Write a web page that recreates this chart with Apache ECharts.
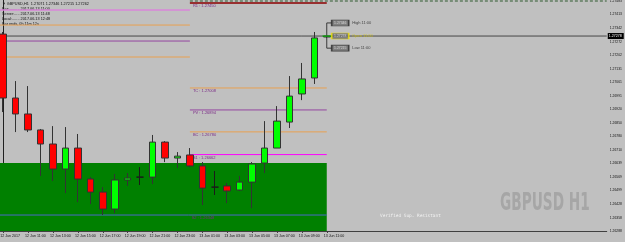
<!DOCTYPE html>
<html>
<head>
<meta charset="utf-8">
<script src="https://cdn.jsdelivr.net/npm/echarts@6/dist/echarts.min.js"></script>
<style>
  html, body { margin: 0; padding: 0; background: #c0c0c0; overflow: hidden; }
  body { width: 625px; height: 242px; position: relative; }
  /* the plot starts slightly outside the window, like the terminal's chart */
  #chart { position: absolute; left: -3px; top: -4px; width: 628px; height: 246px; }
</style>
</head>
<body>
<div id="chart"></div>
<script>
  // hourly bars, 12 Jun 09:00 .. 13 Jun 11:00 (first one shows the date)
  const hours = [
    '12 Jun 2017', '12 Jun 10:00', '12 Jun 11:00', '12 Jun 12:00', '12 Jun 13:00',
    '12 Jun 14:00', '12 Jun 15:00', '12 Jun 16:00', '12 Jun 17:00', '12 Jun 18:00',
    '12 Jun 19:00', '12 Jun 20:00', '12 Jun 21:00', '12 Jun 22:00', '12 Jun 23:00',
    '13 Jun 00:00', '13 Jun 01:00', '13 Jun 02:00', '13 Jun 03:00', '13 Jun 04:00',
    '13 Jun 05:00', '13 Jun 06:00', '13 Jun 07:00', '13 Jun 08:00', '13 Jun 09:00',
    '13 Jun 10:00', '13 Jun 11:00'
  ];
  const futureSlots = 22; // empty space right of the last bar (chart shift)

  // [open, close, low, high]
  const ohlc = [
    [1.27288, 1.26956, 1.26883, 1.27299],
    [1.26956, 1.26873, 1.26779, 1.27044],
    [1.26873, 1.26790, 1.26779, 1.27018],
    [1.26790, 1.26717, 1.26551, 1.26795],
    [1.26717, 1.26587, 1.26525, 1.26810],
    [1.26587, 1.26696, 1.26462, 1.26805],
    [1.26696, 1.26535, 1.26415, 1.26769],
    [1.26535, 1.26467, 1.26405, 1.26545],
    [1.26467, 1.26379, 1.26348, 1.26493],
    [1.26379, 1.26530, 1.26358, 1.26561],
    [1.26530, 1.26540, 1.26499, 1.26566],
    [1.26545, 1.26545, 1.26504, 1.26597],
    [1.26545, 1.26727, 1.26509, 1.26764],
    [1.26727, 1.26644, 1.26623, 1.26732],
    [1.26644, 1.26654, 1.26592, 1.26675],
    [1.26660, 1.26603, 1.26597, 1.26696],
    [1.26603, 1.26488, 1.26400, 1.26623],
    [1.26493, 1.26493, 1.26452, 1.26577],
    [1.26499, 1.26473, 1.26410, 1.26514],
    [1.26478, 1.26519, 1.26473, 1.26551],
    [1.26519, 1.26613, 1.26384, 1.26623],
    [1.26618, 1.26696, 1.26566, 1.26836],
    [1.26696, 1.26836, 1.26696, 1.26914],
    [1.26831, 1.26966, 1.26800, 1.27070],
    [1.26977, 1.27055, 1.26945, 1.27138],
    [1.27060, 1.27268, 1.27029, 1.27299],
    [1.27273, 1.27278, 1.27268, 1.27278]
  ];

  const priceTicks = [
    1.27483, 1.27413, 1.27342, 1.27272, 1.27202, 1.27131, 1.27061, 1.26991, 1.26920,
    1.26850, 1.26780, 1.26710, 1.26639, 1.26569, 1.26499, 1.26428, 1.26358, 1.26288
  ];
  const yMin = 1.26265;
  const yMax = 1.27486;

  // yesterday's pivot levels (drawn up to midnight)
  const prevLevels = [1.27413, 1.27335, 1.27252, 1.27169];
  // today's pivot levels
  const todayNames = ['R1', 'TC', 'PV', 'BC', 'S1'];
  const todayLevels = [1.27450, 1.27008, 1.26894, 1.26780, 1.26662];
  const supportName = 'S2';
  const supportLevel = 1.26348;
  const zoneTop = 1.26618;
  const topDashed = 1.27460;
  const bid = 1.27278;

  const boxNames = ['High 11:00', 'Open 11:00', 'Low 11:00'];
  const boxValues = [1.27346, 1.27278, 1.27215];

  const headerLines = [
    '\u25BC GBPUSD,H1  1.27071 1.27346 1.27215 1.27262',
    'Bar:.......... 2017.06.13 11:00',
    'Server:..... 2017.06.13 11:48',
    'Local:....... 2017.06.13 12:48',
    'Bar ends, 0h 11m 12s'
  ];

  const categories = hours.concat(new Array(futureSlots).fill(''));
  const midnight = hours.indexOf('13 Jun 00:00');
  const lastBar = hours.length - 1;

  const font = 'Liberation Sans, Arial, sans-serif';
  // canvas is shifted by (-3, -4) on the page
  const dx = 3, dy = 4;

  function levelSeries(x0, x1, value, color, width, text, labelAt, dashed) {
    const pts = [[x0, value], [x1, value]];
    if (labelAt != null) pts.splice(1, 0, [labelAt, value]);
    return {
      type: 'line', xAxisIndex: 1, z: 3, silent: true,
      symbol: 'circle', symbolSize: 0.01, showSymbol: true,
      lineStyle: { color: color, width: width, type: dashed ? [3, 2] : 'solid' },
      itemStyle: { color: color },
      data: pts.map((p, i) => ({
        value: p,
        label: {
          show: !!text && (labelAt != null ? i === 1 : i === 0),
          formatter: text || '',
          position: 'right', distance: 3, offset: [0, 3],
          fontSize: 4, fontFamily: font, color: '#7a2a86'
        }
      }))
    };
  }

  const chart = echarts.init(document.getElementById('chart'));

  const prevColors = ['#da86da', '#e8a050', '#9446a0', '#e8a050'];
  const todayColors = ['#8b0000', '#e8a050', '#9446a0', '#e8a050', '#ff00ff'];

  const series = [];

  // support zone
  series.push({
    type: 'line', xAxisIndex: 1, z: 1, silent: true, symbol: 'none',
    lineStyle: { width: 0 },
    data: [[-0.5, yMin]],
    markArea: {
      silent: true,
      itemStyle: { color: '#008000', opacity: 1 },
      data: [[{ coord: [-0.5, zoneTop] }, { coord: [lastBar, yMin] }]]
    }
  });

  prevLevels.forEach((v, i) => {
    series.push(levelSeries(-0.5, midnight, v, prevColors[i], i === 0 ? 1.5 : 1, null, null, false));
  });
  todayLevels.forEach((v, i) => {
    series.push(levelSeries(midnight, lastBar, v, todayColors[i], i === 0 ? 1.5 : 1,
      todayNames[i] + ' : ' + v.toFixed(5), null, false));
  });
  series.push(levelSeries(-0.5, lastBar, supportLevel, '#4a68c8', 1,
    supportName + ' : ' + supportLevel.toFixed(5), midnight - 0.1, false));
  series.push(levelSeries(midnight, categories.length - 0.5, topDashed, '#2f5a2f', 1, null, null, true));

  // bid line with price box on the axis
  series.push({
    type: 'line', xAxisIndex: 1, z: 4, silent: true,
    symbol: 'circle', symbolSize: 0.01,
    lineStyle: { color: '#474747', width: 1 },
    itemStyle: { color: '#474747' },
    data: [
      [-0.5, bid],
      {
        value: [categories.length - 0.5, bid],
        label: {
          show: true, position: 'right', distance: 1,
          formatter: bid.toFixed(5), backgroundColor: '#000', color: '#fff',
          fontSize: 3.6, fontFamily: font, padding: [1, 2, 1, 1]
        }
      }
    ]
  });

  series.push({
    type: 'candlestick', xAxisIndex: 0, z: 6, silent: true,
    barWidth: 7,
    itemStyle: {
      color: '#00ff00', color0: '#ff0000',
      borderColor: '#333', borderColor0: '#333', borderColorDoji: '#1a1a1a',
      borderWidth: 1
    },
    data: ohlc
  });

  // High / Open / Low boxes right of the last bar
  series.push({
    type: 'line', xAxisIndex: 1, z: 7, silent: true, symbol: 'none',
    lineStyle: { color: '#3a3a3a', width: 1 },
    data: [[lastBar + 0.4, boxValues[0]], [lastBar, boxValues[0]], [lastBar, boxValues[2]], [lastBar + 0.4, boxValues[2]]]
  });
  series.push({
    type: 'line', xAxisIndex: 1, z: 7, silent: true, symbol: 'none',
    lineStyle: { color: '#00c000', width: 1 },
    data: [[lastBar - 0.35, boxValues[1]], [lastBar + 0.4, boxValues[1]]]
  });
  series.push({
    type: 'scatter', xAxisIndex: 1, z: 8, silent: true,
    symbol: 'rect', symbolSize: [17, 6],
    data: boxValues.map((v, i) => ({
      value: [lastBar + 1.08, v],
      itemStyle: {
        color: '#6e6e6e',
        borderColor: i === 1 ? '#f0e000' : '#2a2a2a', borderWidth: 1
      },
      label: {
        show: true, position: 'inside', formatter: v.toFixed(5),
        fontSize: 3.4, fontFamily: font, color: '#e8e8e8'
      }
    }))
  });
  series.push({
    type: 'scatter', xAxisIndex: 1, z: 8, silent: true,
    symbol: 'rect', symbolSize: 0.01,
    data: boxValues.map((v, i) => ({
      value: [lastBar + 1.08, v],
      label: {
        show: true, position: 'right', distance: 12, formatter: boxNames[i],
        fontSize: 4, fontFamily: font, color: i === 1 ? '#d8c800' : '#222'
      }
    }))
  });

  const option = {
    animation: false,
    backgroundColor: '#c0c0c0',
    grid: { left: 0, right: 16.5, top: 0, bottom: 11 },
    xAxis: [
      {
        type: 'category',
        data: categories,
        boundaryGap: true,
        axisLine: { lineStyle: { color: '#404040' } },
        axisTick: {
          show: true, alignWithLabel: true, length: 2,
          interval: (i) => i % 2 === 0 && categories[i] !== '',
          lineStyle: { color: '#404040' }
        },
        axisLabel: {
          interval: (i) => i % 2 === 0 && categories[i] !== '',
          align: 'left', margin: 3, fontSize: 3.6, fontFamily: font, color: '#111',
          padding: [0, 0, 0, -3]
        },
        splitLine: { show: false }
      },
      { type: 'value', min: -0.5, max: categories.length - 0.5, show: false }
    ],
    yAxis: {
      type: 'value',
      position: 'right',
      min: yMin,
      max: yMax,
      axisLine: { show: true, lineStyle: { color: '#202020' } },
      axisTick: { show: false },
      splitLine: { show: false },
      axisLabel: {
        customValues: priceTicks,
        formatter: (v) => v.toFixed(5),
        align: 'left', verticalAlign: 'top', margin: 3, padding: [3, 0, 0, 0],
        fontSize: 3.4, fontFamily: font, color: '#111'
      }
    },
    graphic: headerLines.map((t, i) => ({
      type: 'text', left: 2 + dx, top: 2 + i * 5 + dy, silent: true,
      style: { text: t, fontSize: 3.8, fontFamily: font, fill: '#111' }
    })).concat([
      {
        type: 'text', left: 380 + dx, top: 214 + dy, silent: true,
        style: { text: 'Verified Sup. Resistant', fontSize: 4.4, fontFamily: 'DejaVu Sans Mono, monospace', fill: '#f2f2f2' }
      },
      {
        type: 'text', x: 500 + dx, y: 192 + dy, scaleX: 0.57, silent: true,
        style: {
          text: 'GBPUSD H1', fontSize: 24, fontWeight: 'bold',
          fontFamily: 'DejaVu Sans, sans-serif', fill: '#a6a6a6'
        }
      }
    ]),
    series: series
  };

  chart.setOption(option);
</script>
</body>
</html>
